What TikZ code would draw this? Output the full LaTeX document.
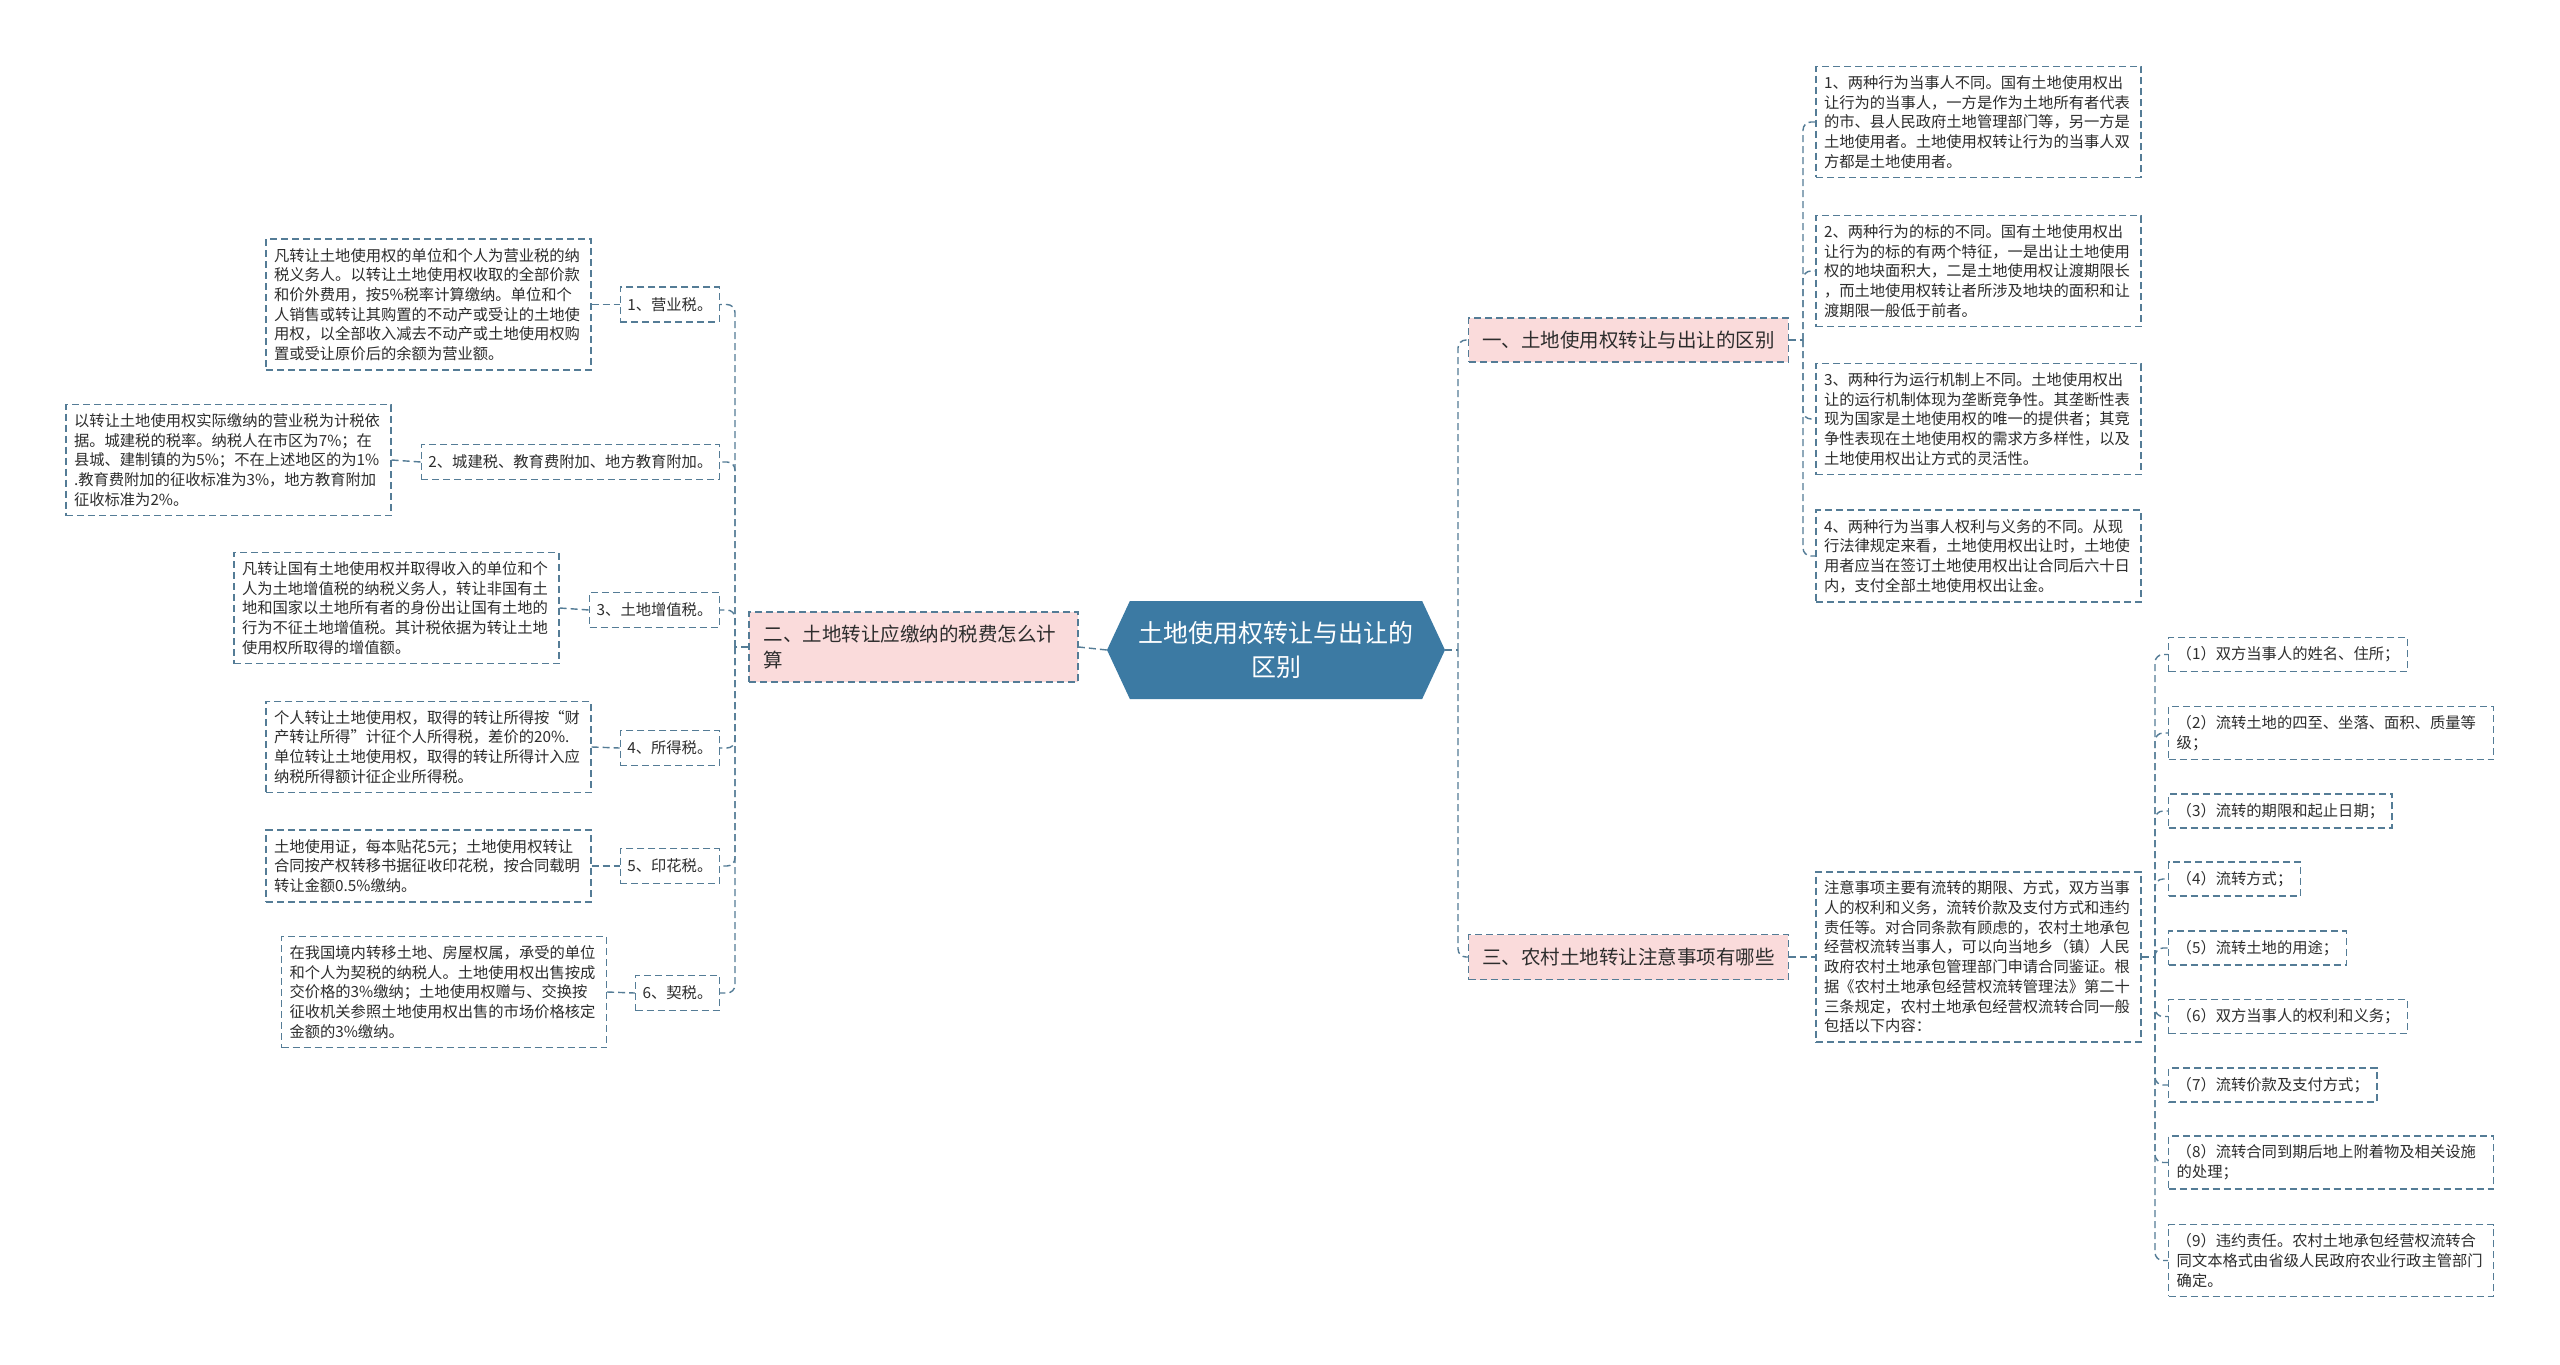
\documentclass[tikz,border=0pt]{standalone}
\usepackage{fontspec}
\setmainfont{Noto Sans CJK SC}
\usetikzlibrary{shapes.symbols}
\definecolor{bcol}{RGB}{84,124,150}
\definecolor{pinkc}{RGB}{250,219,219}
\definecolor{ctrc}{RGB}{60,122,163}
\definecolor{tcol}{RGB}{45,45,45}
\tikzset{
  dbox/.style={draw=bcol, line width=1.4pt, dash pattern=on 7pt off 4pt, text=tcol,
    font=\fontsize{15.3}{19.7}\selectfont, inner xsep=8pt, inner ysep=9pt},
  detail/.style={dbox, text width=309pt, align=left},
  lbl/.style={dbox, inner xsep=7pt, minimum height=35pt},
  item/.style={dbox, anchor=west, inner xsep=8pt, minimum height=34pt},
  pinkbox/.style={dbox, fill=pinkc, font=\fontsize{19.5}{26}\selectfont, inner xsep=13.5pt},
  conn/.style={draw=bcol, line width=1.4pt, dash pattern=on 7pt off 4pt, rounded corners=8pt},
}
\begin{document}
\begin{tikzpicture}[x=1pt,y=-1pt]
\useasboundingbox[fill=white] (0,0) rectangle (2560,1365);

% center
\node[signal, signal to=west and east, signal pointer angle=130, fill=ctrc, draw=none,
  minimum width=338pt, minimum height=98pt, text=white, align=center, inner sep=0pt,
  font=\fontsize{25}{34}\selectfont] (c) at (1276,650) {土地使用权转让与出让的\\区别};

% left branch
\node[pinkbox, text width=300pt, align=left, inner xsep=14.5pt, minimum height=70pt] (lb) at (913.5,647)
  {二、土地转让应缴纳的税费怎么计\\算};

% left labels
\node[lbl, anchor=east] (l1) at (720,304.5) {1、营业税。};
\node[lbl, anchor=east] (l2) at (720,462) {2、城建税、教育费附加、地方教育附加。};
\node[lbl, anchor=east] (l3) at (720,610) {3、土地增值税。};
\node[lbl, anchor=east] (l4) at (720,748) {4、所得税。};
\node[lbl, anchor=east] (l5) at (720,866) {5、印花税。};
\node[lbl, anchor=east] (l6) at (720,993) {6、契税。};

% left details
\node[detail] (d1) at (428.5,304.5) {凡转让土地使用权的单位和个人为营业税的纳\\税义务人。以转让土地使用权收取的全部价款\\和价外费用，按5\%税率计算缴纳。单位和个\\人销售或转让其购置的不动产或受让的土地使\\用权，以全部收入减去不动产或土地使用权购\\置或受让原价后的余额为营业额。};
\node[detail] (d2) at (228.5,460) {以转让土地使用权实际缴纳的营业税为计税依\\据。城建税的税率。纳税人在市区为7\%；在\\县城、建制镇的为5\%；不在上述地区的为1\%\\.教育费附加的征收标准为3\%，地方教育附加\\征收标准为2\%。};
\node[detail] (d3) at (396.5,608) {凡转让国有土地使用权并取得收入的单位和个\\人为土地增值税的纳税义务人，转让非国有土\\地和国家以土地所有者的身份出让国有土地的\\行为不征土地增值税。其计税依据为转让土地\\使用权所取得的增值额。};
\node[detail] (d4) at (428.5,747) {个人转让土地使用权，取得的转让所得按“财\\产转让所得”计征个人所得税，差价的20\%.\\单位转让土地使用权，取得的转让所得计入应\\纳税所得额计征企业所得税。};
\node[detail] (d5) at (428.5,866) {土地使用证，每本贴花5元；土地使用权转让\\合同按产权转移书据征收印花税，按合同载明\\转让金额0.5\%缴纳。};
\node[detail] (d6) at (444,992) {在我国境内转移土地、房屋权属，承受的单位\\和个人为契税的纳税人。土地使用权出售按成\\交价格的3\%缴纳；土地使用权赠与、交换按\\征收机关参照土地使用权出售的市场价格核定\\金额的3\%缴纳。};

% right branches
\node[pinkbox, minimum height=44pt, minimum width=319pt] (b1) at (1628.5,340) {一、土地使用权转让与出让的区别};
\node[pinkbox, minimum height=45pt, minimum width=319pt] (b3) at (1628.5,957) {三、农村土地转让注意事项有哪些};

% right details
\node[detail] (r1) at (1978.5,122) {1、两种行为当事人不同。国有土地使用权出\\让行为的当事人，一方是作为土地所有者代表\\的市、县人民政府土地管理部门等，另一方是\\土地使用者。土地使用权转让行为的当事人双\\方都是土地使用者。};
\node[detail] (r2) at (1978.5,271) {2、两种行为的标的不同。国有土地使用权出\\让行为的标的有两个特征，一是出让土地使用\\权的地块面积大，二是土地使用权让渡期限长\\，而土地使用权转让者所涉及地块的面积和让\\渡期限一般低于前者。};
\node[detail] (r3) at (1978.5,419) {3、两种行为运行机制上不同。土地使用权出\\让的运行机制体现为垄断竞争性。其垄断性表\\现为国家是土地使用权的唯一的提供者；其竞\\争性表现在土地使用权的需求方多样性，以及\\土地使用权出让方式的灵活性。};
\node[detail] (r4) at (1978.5,556) {4、两种行为当事人权利与义务的不同。从现\\行法律规定来看，土地使用权出让时，土地使\\用者应当在签订土地使用权出让合同后六十日\\内，支付全部土地使用权出让金。};
\node[detail] (r5) at (1978.5,957) {注意事项主要有流转的期限、方式，双方当事\\人的权利和义务，流转价款及支付方式和违约\\责任等。对合同条款有顾虑的，农村土地承包\\经营权流转当事人，可以向当地乡（镇）人民\\政府农村土地承包管理部门申请合同鉴证。根\\据《农村土地承包经营权流转管理法》第二十\\三条规定，农村土地承包经营权流转合同一般\\包括以下内容：};

% right items
\node[item] (i1) at (2168,654.5) {（1）双方当事人的姓名、住所；};
\node[item, text width=309pt, align=left] (i2) at (2168,733) {（2）流转土地的四至、坐落、面积、质量等\\级；};
\node[item] (i3) at (2168,811) {（3）流转的期限和起止日期；};
\node[item] (i4) at (2168,879) {（4）流转方式；};
\node[item] (i5) at (2168,948) {（5）流转土地的用途；};
\node[item] (i6) at (2168,1016.5) {（6）双方当事人的权利和义务；};
\node[item] (i7) at (2168,1085) {（7）流转价款及支付方式；};
\node[item, text width=309pt, align=left] (i8) at (2168,1162.5) {（8）流转合同到期后地上附着物及相关设施\\的处理；};
\node[item, text width=309pt, align=left] (i9) at (2168,1260.5) {（9）违约责任。农村土地承包经营权流转合\\同文本格式由省级人民政府农业行政主管部门\\确定。};

% junctions
\coordinate (lj) at (735,647);
\coordinate (rj) at (1458,650);
\coordinate (r1j) at (1803,340);
\coordinate (r3j) at (2155,957);

% connectors
\draw[conn] (c.west) -- (lb.east);
\draw[conn] (lb.west) -- (lj);
\foreach \i in {1,...,6} {
  \draw[conn] (lj) |- (l\i.east);
  \draw[conn] (d\i.east) -- (l\i.west);
}
\draw[conn] (c.east) -- (rj);
\draw[conn] (rj) |- (b1.west);
\draw[conn] (rj) |- (b3.west);
\draw[conn] (b1.east) -- (r1j);
\foreach \i in {1,...,4} \draw[conn] (r1j) |- (r\i.west);
\draw[conn] (b3.east) -- (r5.west);
\draw[conn] (r5.east) -- (r3j);
\foreach \i in {1,...,9} \draw[conn] (r3j) |- (i\i.west);
\end{tikzpicture}
\end{document}
